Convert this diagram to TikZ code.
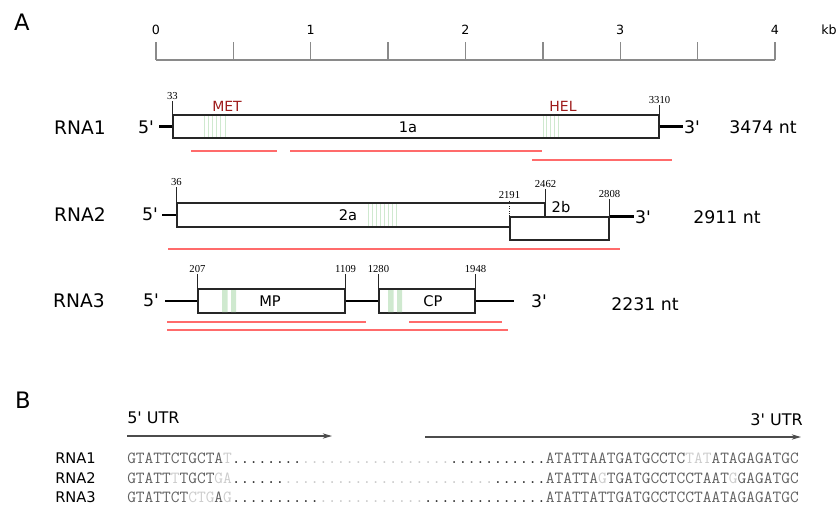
\documentclass[tikz,border=0pt]{standalone}
\usepackage{fontspec}
\setmainfont{DejaVu Sans}
\newfontfamily\posfont{Liberation Serif}
\usetikzlibrary{arrows.meta, positioning, fit}

\definecolor{hlred}{HTML}{FF6B6B}
\definecolor{domred}{HTML}{9E1B1B}
\definecolor{motif}{HTML}{CFE9CF}
\definecolor{scalegray}{HTML}{8A8A8A}
\colorlet{ntdark}{black!62}
\colorlet{ntlight}{black!20}
\colorlet{dotdark}{black!85}
\colorlet{dotlight}{black!22}

\newcommand{\pr}{\textquotesingle}
\newcommand{\dk}[1]{\textcolor{ntdark}{#1}}
\newcommand{\lt}[1]{\textcolor{ntlight}{#1}}
\newcommand{\dd}[1]{\textcolor{dotdark}{#1}}
\newcommand{\ld}[1]{\textcolor{dotlight}{#1}}

\begin{document}
\begin{tikzpicture}[x=0.75pt, y=-0.75pt,
    panel/.style={font=\fontsize{17}{20}\selectfont},
    rnalbl/.style={font=\fontsize{14}{16}\selectfont},
    endlbl/.style={font=\fontsize{13}{15}\selectfont, inner sep=1pt},
    orf/.style={draw=black!85, line width=0.8pt, inner sep=0pt},
    orflbl/.style={font=\fontsize{11}{13}\selectfont},
    domlbl/.style={text=domred, font=\fontsize{10.5}{12}\selectfont},
    poslbl/.style={font=\posfont\fontsize{8}{9}\selectfont, anchor=south, inner sep=1pt},
    tickline/.style={draw=black!85, line width=0.8pt},
    utr/.style={line width=2pt},
    hl/.style={draw=hlred, line width=0.9pt},
    stripe/.style={draw=motif, line width=0.5pt},
    seq/.style={font=\ttfamily\fontsize{12.7}{14}\selectfont, anchor=west, inner sep=0pt},
    seqlbl/.style={font=\fontsize{11}{13}\selectfont, anchor=west, inner sep=0pt},
    utrarrow/.style={draw=black!70, line width=0.8pt, -{Stealth[length=7pt, width=4pt]}}]
  \useasboundingbox (0,0) rectangle (838,508);

  % panel A: scale bar
  \node[panel] (labA) at (22,22) {A};
  \draw[scalegray, line width=1.4pt] (156,60) -- (775,60);
  \foreach \k in {0,...,8}
    \draw[scalegray, line width=1.1pt] ({156+\k*77.375},42) -- ({156+\k*77.375},60);
  \foreach \k in {0,...,4}
    \node[font=\fontsize{9.5}{11}\selectfont] (kb\k) at ({156+\k*154.75},30) {\k};
  \node[font=\fontsize{9.5}{11}\selectfont] (kbunit) at (829,30) {kb};

  % RNA1
  \node[rnalbl] (rna1) at (80,128) {RNA1};
  \node[endlbl] (five1) at (146,127) {5\pr};
  \node[orf, fit={(173,115) (659,138)}] (orf1a) {};
  \node[orflbl] (lab1a) at (408,127) {1a};
  \foreach \x in {204,208.2,...,225} \draw[stripe] (\x,116) -- (\x,137);
  \foreach \x in {543,546.8,...,562} \draw[stripe] (\x,116) -- (\x,137);
  \node[domlbl] (met) at (227,106) {MET};
  \node[domlbl] (hel) at (563,106) {HEL};
  \draw[tickline] (orf1a.north west) -- ++(0,-13) node[poslbl] {33};
  \draw[tickline] (orf1a.north east) -- ++(0,-9) node[poslbl] {3310};
  \node[endlbl] (three1) at (692,127) {3\pr};
  \draw[utr, shorten <=3pt] (five1.east |- orf1a.west) -- (orf1a.west);
  \draw[utr] (orf1a.east) -- (three1.west |- orf1a.east);
  \node[endlbl] (nt1) at (763,127) {3474 nt};
  \draw[hl] (191,151) -- (277,151);
  \draw[hl] (290,151) -- (542,151);
  \draw[hl] (532,160) -- (672,160);

  % RNA2
  \node[rnalbl] (rna2) at (80,215) {RNA2};
  \node[endlbl] (five2) at (150,214) {5\pr};
  \node[orf, fit={(177,203) (545,227)}] (orf2a) {};
  \foreach \x in {368,372.1,...,397} \draw[stripe] (\x,204) -- (\x,226);
  \node[orf, fill=white, fit={(510,217) (609,240)}] (orf2b) {};
  \node[orflbl] (lab2a) at (348,215) {2a};
  \node[orflbl] (lab2b) at (561,207) {2b};
  \draw[tickline] (orf2a.north west) -- ++(0,-15) node[poslbl] {36};
  \draw[tickline, densely dotted] (orf2b.north west) -- ++(0,-16) node[poslbl] {2191};
  \draw[tickline] (orf2a.north east) -- ++(0,-13) node[poslbl] {2462};
  \draw[tickline] (orf2b.north east) -- ++(0,-17) node[poslbl] {2808};
  \node[endlbl] (three2) at (643,217) {3\pr};
  \draw[utr, shorten <=2pt] (five2.east |- orf2a.west) -- (orf2a.west);
  \draw[utr] (orf2b.north east) -- (three2.west |- orf2b.north east);
  \node[endlbl] (nt2) at (727,217) {2911 nt};
  \draw[hl] (168,249) -- (620,249);

  % RNA3
  \node[rnalbl] (rna3) at (79,301) {RNA3};
  \node[endlbl] (five3) at (151,300) {5\pr};
  \node[orf, fit={(198,289) (345,313)}] (orfmp) {};
  \node[orf, fit={(379,289) (475,313)}] (orfcp) {};
  \fill[motif] (222,290) rectangle (227.5,312) (231,290) rectangle (236,312);
  \fill[motif] (388,290) rectangle (393.5,312) (397,290) rectangle (402,312);
  \node[orflbl] (labmp) at (270,301) {MP};
  \node[orflbl] (labcp) at (433,301) {CP};
  \draw[tickline] (orfmp.north west) -- ++(0,-14) node[poslbl] {207};
  \draw[tickline] (orfmp.north east) -- ++(0,-14) node[poslbl] {1109};
  \draw[tickline] (orfcp.north west) -- ++(0,-14) node[poslbl] {1280};
  \draw[tickline] (orfcp.north east) -- ++(0,-14) node[poslbl] {1948};
  \node[endlbl] (three3) at (539,301) {3\pr};
  \draw[utr] (five3.east |- orfmp.west) ++(5,0) -- (orfmp.west);
  \draw[utr] (orfmp.east) -- (orfcp.west);
  \draw[utr] (orfcp.east) -- ++(38,0) coordinate (tail3);
  \node[endlbl] (nt3) at (645,304) {2231 nt};
  \draw[hl] (167,322) -- (366,322);
  \draw[hl] (409,322) -- (502,322);
  \draw[hl] (167,330) -- (508,330);

  % panel B: UTR alignment
  \node[panel] (labB) at (23,400) {B};
  \node[font=\fontsize{12}{14}\selectfont, anchor=west, inner sep=0pt] (utr5) at (127,418) {5\pr{} UTR};
  \node[font=\fontsize{12}{14}\selectfont, anchor=east, inner sep=0pt] (utr3) at (803,420) {3\pr{} UTR};
  \coordinate (a5s) at (127,436);
  \coordinate (a5e) at (332,436);
  \coordinate (a3s) at (425,437);
  \coordinate (a3e) at (801,437);
  \draw[utrarrow] (a5s) -- (a5e);
  \draw[utrarrow] (a3s) -- (a3e);

  \node[seqlbl] (seqlab1) at (55,458) {RNA1};
  \node[seqlbl] (seqlab2) at (55,478) {RNA2};
  \node[seqlbl] (seqlab3) at (55,497) {RNA3};
  \node[seq] (seq1) at (127,458) {\dk{GTATTCTGCTA}\lt{T}\dd{........}\ld{.................}\dd{...........}\dk{ATATTAATGATGCCTC}\lt{TAT}\dk{ATAGAGATGC}};
  \node[seq] (seq2) at (127,478) {\dk{GTATT}\lt{T}\dk{TGCT}\lt{GA}\dd{......}\ld{........................}\dd{......}\dk{ATATTA}\lt{G}\dk{TGATGCCTCCTAAT}\lt{G}\dk{GAGATGC}};
  \node[seq] (seq3) at (127,497) {\dk{GTATTCT}\lt{CTG}\dk{A}\lt{G}\dd{..........}\ld{............}\dd{..............}\dk{ATATTATTGATGCCTCCTAATAGAGATGC}};
\end{tikzpicture}
\end{document}
